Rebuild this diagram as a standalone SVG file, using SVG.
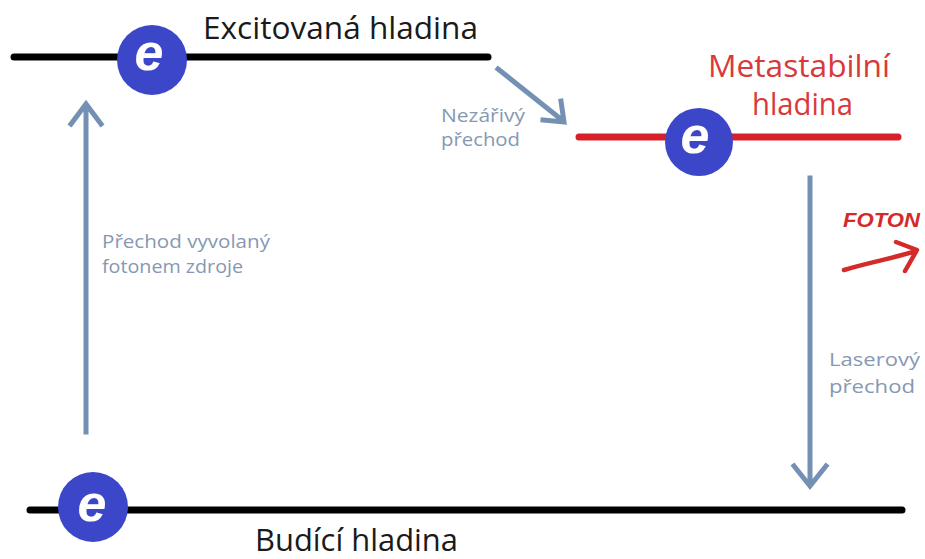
<svg xmlns="http://www.w3.org/2000/svg" width="925" height="559" viewBox="0 0 925 559">
<style>
.lvl{stroke-width:7;stroke-linecap:round;fill:none}
.arr{stroke:#7491b4;stroke-width:5;fill:none;stroke-linecap:square;stroke-linejoin:miter}
.lbl{font-family:"Open Sans","Noto Sans",sans-serif;font-size:19px;fill:#8698b2}
.big{font-family:"Open Sans","Noto Sans",sans-serif;font-size:31px}
.ec{fill:#3c46c8}
.et{font-family:"Liberation Sans",Arial,sans-serif;font-weight:bold;font-style:italic;font-size:52px;fill:#fff;text-anchor:middle}
</style>
<rect width="925" height="559" fill="#fff"/>
<g id="connectors">
  <path class="arr" d="M86 432 V106 M71 124 L86 104 L101 124"/>
  <path class="arr" d="M498 69 L562 120 M543 120 L564 122 L561 101"/>
  <path class="arr" d="M810 178 V484 M794 466 L810 486 L826 466"/>
  <path d="M844 270 C870 262 895 258 916 251 M896 242 L917 250 L905 271" stroke="#d42a2a" stroke-width="4.5" fill="none" stroke-linecap="round" stroke-linejoin="round"/>
</g>
<g id="level-excited">
  <line class="lvl" x1="14" y1="57" x2="488" y2="57" stroke="#000"/>
  <text class="big" x="203" y="39" fill="#1a1a1a" textLength="275" lengthAdjust="spacingAndGlyphs">Excitovaná hladina</text>
</g>
<g id="level-meta">
  <line class="lvl" x1="579" y1="137" x2="898" y2="137" stroke="#d8202a"/>
  <text class="big" x="708" y="77" fill="#d83a3a" textLength="182" lengthAdjust="spacingAndGlyphs">Metastabilní</text>
  <text class="big" x="752" y="115" fill="#d83a3a" textLength="101" lengthAdjust="spacingAndGlyphs">hladina</text>
</g>
<g id="level-ground">
  <line class="lvl" x1="30" y1="510" x2="902" y2="510" stroke="#000"/>
  <text class="big" x="255" y="551" fill="#1a1a1a" textLength="203" lengthAdjust="spacingAndGlyphs">Budící hladina</text>
</g>
<g id="electron-1">
  <circle class="ec" cx="152" cy="60" r="35"/>
  <text class="et" x="149" y="70">e</text>
</g>
<g id="electron-2">
  <circle class="ec" cx="699" cy="142" r="34"/>
  <text class="et" x="695" y="153">e</text>
</g>
<g id="electron-3">
  <circle class="ec" cx="93" cy="507" r="35"/>
  <text class="et" x="92" y="521">e</text>
</g>
<g id="labels">
  <text class="lbl" x="441" y="122" textLength="84" lengthAdjust="spacingAndGlyphs">Nezářivý</text>
  <text class="lbl" x="441" y="146" textLength="79" lengthAdjust="spacingAndGlyphs">přechod</text>
  <text class="lbl" x="102" y="248" textLength="168" lengthAdjust="spacingAndGlyphs">Přechod vyvolaný</text>
  <text class="lbl" x="102" y="273" textLength="141" lengthAdjust="spacingAndGlyphs">fotonem zdroje</text>
  <text class="lbl" x="829" y="366" textLength="91" lengthAdjust="spacingAndGlyphs">Laserový</text>
  <text class="lbl" x="829" y="393" textLength="86" lengthAdjust="spacingAndGlyphs">přechod</text>
  <text x="843" y="227" font-family="'Liberation Sans',Arial,sans-serif" font-size="19.5" font-weight="bold" font-style="italic" fill="#d42a2a" textLength="77" lengthAdjust="spacingAndGlyphs">FOTON</text>
</g>
</svg>
